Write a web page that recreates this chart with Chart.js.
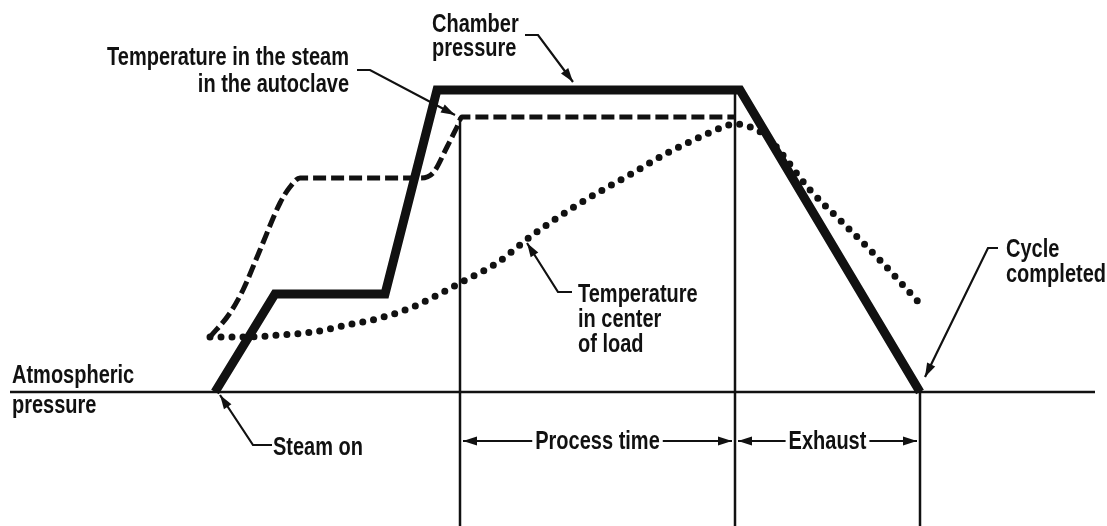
<!DOCTYPE html>
<html>
<head>
<meta charset="utf-8">
<script src="https://cdn.jsdelivr.net/npm/chart.js@4.4.0/dist/chart.umd.min.js"></script>
<style>
    html, body { margin: 0; padding: 0; background: #ffffff; }
    #wrap { width: 1107px; height: 526px; position: relative; }
</style>
</head>
<body>
<div id="wrap"><canvas id="cycleChart"></canvas></div>
<script>
// time in arbitrary units, level 0 = atmospheric pressure
const chamberTime = [21.5, 27.5, 38.5, 43.7, 74.0, 92.0];
const chamberLevel = [0, 9.8, 9.8, 30.2, 30.2, 0];

const steamTime = [21.0, 23.0, 24.3, 26.0, 28.0, 29.0, 30.0, 42.0, 43.3, 44.7, 45.7, 46.2, 73.5];
const steamLevel = [5.5, 7.9, 10.2, 14.2, 18.9, 20.5, 21.4, 21.4, 21.9, 24.5, 26.5, 27.5, 27.5];

const loadTime = [21.0, 24.7, 28.0, 31.3, 34.7, 38.0, 41.3, 44.7, 46.0, 49.7, 53.0, 57.7, 63.3, 66.7, 70.0, 72.3, 73.5, 75.0, 76.7, 81.0, 84.3, 87.7, 92.3];
const loadLevel = [5.5, 5.5, 5.7, 6.0, 6.7, 7.4, 8.5, 10.2, 10.9, 12.9, 15.5, 18.7, 21.9, 23.9, 25.5, 26.5, 26.8, 26.5, 25.5, 20.2, 16.9, 13.5, 8.5];

const baselineTime = [1.0, 109.5];
const processStart = 46.0;
const processEnd = 73.5;
const cycleEnd = 92.0;
const markerTop = [27.5, 30.2, 0];
const dimensionLevel = -4.9;

const processLabel = 'Process time';
const exhaustLabel = 'Exhaust';

// no condensed face installed, so the text is squeezed horizontally
const FONT = 'bold 25px "Liberation Sans", Arial, sans-serif';
const SQUEEZE = 0.8;
const INK = '#111111';

const callouts = [
    { lines: ['Chamber', 'pressure'], x: 43.2, y: 36.0, align: 'left', gap: 2.4,
      leader: [[52.5, 35.7], [53.8, 35.7], [57.3, 31.0]] },
    { lines: ['Temperature in the steam', 'in the autoclave'], x: 34.9, y: 32.7, align: 'right', gap: 2.7,
      leader: [[35.7, 32.2], [37.0, 32.2], [45.5, 27.7]] },
    { lines: ['Temperature', 'in center', 'of load'], x: 57.8, y: 9.0, align: 'left', gap: 2.5,
      leader: [[57.2, 10.0], [55.8, 10.0], [52.7, 14.9]] },
    { lines: ['Cycle', 'completed'], x: 100.6, y: 13.5, align: 'left', gap: 2.5,
      leader: [[99.8, 14.4], [98.8, 14.4], [92.5, 1.5]] },
    { lines: ['Atmospheric', 'pressure'], x: 1.2, y: 0.9, align: 'left', gap: 3.0, leader: null },
    { lines: ['Steam on'], x: 27.3, y: -6.3, align: 'left', gap: 0,
      leader: [[27.2, -5.3], [25.3, -5.3], [22.0, -0.3]] }
];

function toPoints(xs, ys) {
    return xs.map((x, i) => ({ x: x, y: ys[i] }));
}

function fillNarrow(ctx, text, x, y) {
    ctx.save();
    ctx.translate(x, y);
    ctx.scale(SQUEEZE, 1);
    ctx.fillText(text, 0, 0);
    ctx.restore();
}

function drawArrowHead(ctx, fromX, fromY, toX, toY, len, half) {
    const angle = Math.atan2(toY - fromY, toX - fromX);
    ctx.save();
    ctx.translate(toX, toY);
    ctx.rotate(angle);
    ctx.beginPath();
    ctx.moveTo(0, 0);
    ctx.lineTo(-len, -half);
    ctx.lineTo(-len, half);
    ctx.closePath();
    ctx.fill();
    ctx.restore();
}

const annotationPlugin = {
    id: 'cycleNotes',
    afterDatasetsDraw(chart) {
        const ctx = chart.ctx;
        const xs = chart.scales.x;
        const ys = chart.scales.y;
        const px = (v) => xs.getPixelForValue(v);
        const py = (v) => ys.getPixelForValue(v);

        ctx.save();
        ctx.strokeStyle = INK;
        ctx.fillStyle = INK;
        ctx.font = FONT;
        ctx.textBaseline = 'alphabetic';

        callouts.forEach((c) => {
            ctx.textAlign = c.align;
            c.lines.forEach((line, i) => {
                fillNarrow(ctx, line, px(c.x), py(c.y - i * c.gap));
            });
            if (c.leader) {
                ctx.lineWidth = 2.2;
                ctx.beginPath();
                c.leader.forEach((p, i) => {
                    if (i === 0) ctx.moveTo(px(p[0]), py(p[1]));
                    else ctx.lineTo(px(p[0]), py(p[1]));
                });
                ctx.stroke();
                const a = c.leader[c.leader.length - 2];
                const b = c.leader[c.leader.length - 1];
                drawArrowHead(ctx, px(a[0]), py(a[1]), px(b[0]), py(b[1]), 14, 4.5);
            }
        });

        // dimension arrows along the bottom
        const dims = [
            [processStart, processEnd, processLabel],
            [processEnd, cycleEnd, exhaustLabel]
        ];
        const yDim = py(dimensionLevel);
        dims.forEach(([a, b, text]) => {
            const x1 = px(a) + 3;
            const x2 = px(b) - 3;
            ctx.lineWidth = 2.2;
            ctx.beginPath();
            ctx.moveTo(x1, yDim);
            ctx.lineTo(x2, yDim);
            ctx.stroke();
            drawArrowHead(ctx, x2, yDim, x1, yDim, 14, 4.5);
            drawArrowHead(ctx, x1, yDim, x2, yDim, 14, 4.5);
            const mid = (px(a) + px(b)) / 2;
            const w = ctx.measureText(text).width * SQUEEZE;
            ctx.fillStyle = '#ffffff';
            ctx.fillRect(mid - w / 2 - 3, yDim - 14, w + 6, 28);
            ctx.fillStyle = INK;
            ctx.textAlign = 'center';
            ctx.textBaseline = 'middle';
            fillNarrow(ctx, text, mid, yDim + 1);
            ctx.textBaseline = 'alphabetic';
        });
        ctx.restore();
    }
};

const thin = { borderColor: INK, borderWidth: 2.5, pointRadius: 0, showLine: true, fill: false };

new Chart(document.getElementById('cycleChart'), {
    type: 'scatter',
    data: {
        datasets: [
            {
                label: 'Chamber pressure',
                data: toPoints(chamberTime, chamberLevel),
                borderColor: INK, borderWidth: 9, borderJoinStyle: 'miter',
                pointRadius: 0, showLine: true, tension: 0
            },
            {
                label: 'Temperature in the steam in the autoclave',
                data: toPoints(steamTime, steamLevel),
                borderColor: INK, borderWidth: 5, borderDash: [13, 5],
                pointRadius: 0, showLine: true, cubicInterpolationMode: 'monotone'
            },
            {
                label: 'Temperature in center of load',
                data: toPoints(loadTime, loadLevel),
                borderColor: INK, borderWidth: 7, borderDash: [0, 11], borderCapStyle: 'round',
                pointRadius: 0, showLine: true, cubicInterpolationMode: 'monotone'
            },
            Object.assign({ label: 'Atmospheric pressure', data: toPoints(baselineTime, [0, 0]) }, thin),
            Object.assign({ label: 'Process start', data: toPoints([processStart, processStart], [markerTop[0], -13.4]) }, thin),
            Object.assign({ label: 'Process end', data: toPoints([processEnd, processEnd], [markerTop[1], -13.4]) }, thin),
            Object.assign({ label: 'Cycle end', data: toPoints([cycleEnd, cycleEnd], [markerTop[2], -13.4]) }, thin)
        ]
    },
    options: {
        responsive: true,
        maintainAspectRatio: false,
        animation: false,
        layout: { padding: 0 },
        plugins: {
            legend: { display: false },
            tooltip: { enabled: false }
        },
        scales: {
            x: { type: 'linear', min: 0, max: 110.7, display: false },
            y: { type: 'linear', min: -13.4, max: 39.2, display: false }
        }
    },
    plugins: [annotationPlugin]
});
</script>
</body>
</html>
